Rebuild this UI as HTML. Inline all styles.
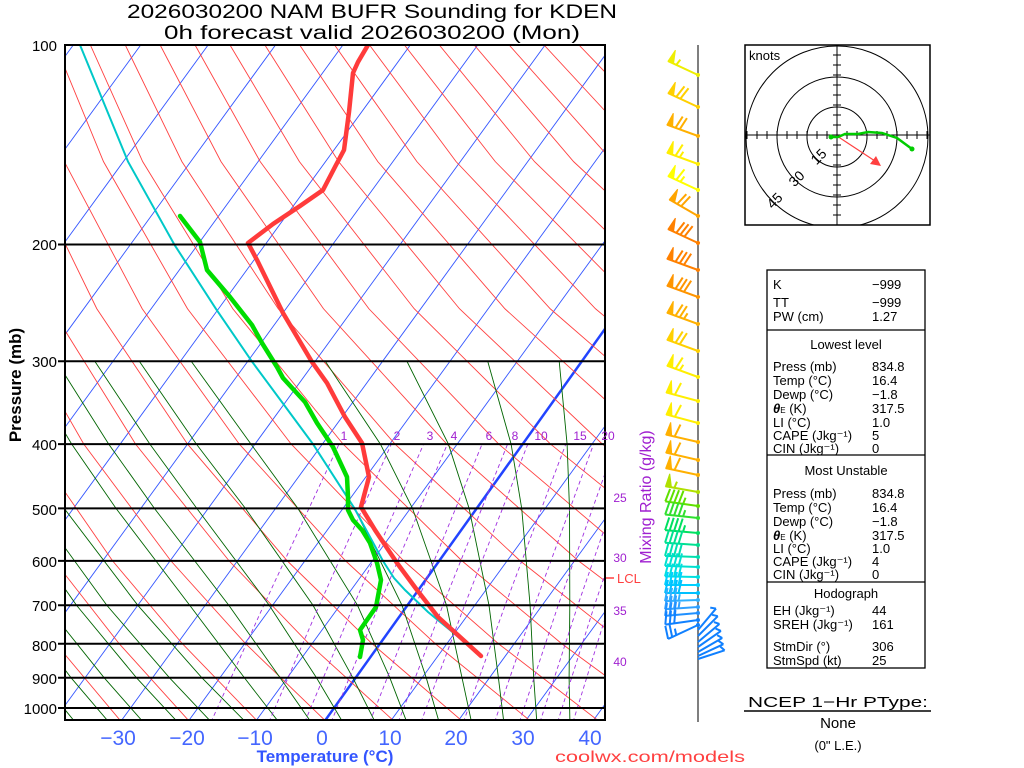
<!DOCTYPE html>
<html><head><meta charset="utf-8"><style>
html,body{margin:0;padding:0;background:#fff;}
svg{display:block;font-family:"Liberation Sans",sans-serif;}
</style></head><body>
<svg width="1024" height="768" viewBox="0 0 1024 768" xmlns="http://www.w3.org/2000/svg">
<defs>
<clipPath id="cp"><rect x="65" y="45" width="540" height="675"/></clipPath>
<clipPath id="hc"><rect x="745" y="45" width="185" height="180"/></clipPath>
<g id="b10"><line x1="0" y1="0" x2="-33" y2="0"/><line x1="-33" y1="0" x2="-30" y2="-13"/><circle r="2" stroke="none"/></g>
<g id="b15"><line x1="0" y1="0" x2="-33" y2="0"/><line x1="-33" y1="0" x2="-30" y2="-13"/><line x1="-28.5" y1="0" x2="-27" y2="-6.5"/><circle r="2" stroke="none"/></g>
<g id="b25"><line x1="0" y1="0" x2="-33" y2="0"/><line x1="-33" y1="0" x2="-30" y2="-13"/><line x1="-28.5" y1="0" x2="-25.5" y2="-13"/><line x1="-24" y1="0" x2="-22.5" y2="-6.5"/><circle r="2" stroke="none"/></g>
<g id="b30"><line x1="0" y1="0" x2="-33" y2="0"/><line x1="-33" y1="0" x2="-30" y2="-13"/><line x1="-28.5" y1="0" x2="-25.5" y2="-13"/><line x1="-24" y1="0" x2="-21" y2="-13"/><circle r="2" stroke="none"/></g>
<g id="b35"><use href="#b30"/><line x1="-19.5" y1="0" x2="-18" y2="-6.5"/></g>
<g id="b40"><use href="#b30"/><line x1="-19.5" y1="0" x2="-16.5" y2="-13"/></g>
<g id="b45"><use href="#b40"/><line x1="-15" y1="0" x2="-13.5" y2="-6.5"/></g>
<g id="b50"><line x1="0" y1="0" x2="-33" y2="0"/><polygon points="-33,0 -31,-13 -27,0" stroke-width="1"/><circle r="2" stroke="none"/></g>
<g id="b55"><use href="#b50"/><line x1="-24" y1="0" x2="-22.5" y2="-6.5"/></g>
<g id="b60"><use href="#b50"/><line x1="-24" y1="0" x2="-21" y2="-13"/></g>
<g id="b65"><use href="#b60"/><line x1="-19.5" y1="0" x2="-18" y2="-6.5"/></g>
<g id="b70"><use href="#b60"/><line x1="-19.5" y1="0" x2="-16.5" y2="-13"/></g>
<g id="b75"><use href="#b70"/><line x1="-15" y1="0" x2="-13.5" y2="-6.5"/></g>
<g id="b80"><use href="#b70"/><line x1="-15" y1="0" x2="-12" y2="-13"/></g>
<g id="f1"><line x1="0" y1="0" x2="-28" y2="0"/><line x1="-28" y1="0" x2="-25" y2="5"/></g>
</defs>
<rect width="1024" height="768" fill="#fff"/>
<g clip-path="url(#cp)" fill="none">
<g stroke="#3355ff" stroke-width="0.9">
<line x1="-418.9" y1="722.05" x2="73.4" y2="44.86"/><line x1="-351.5" y1="722.05" x2="140.8" y2="44.86"/>
<line x1="-284.1" y1="722.05" x2="208.2" y2="44.86"/><line x1="-216.7" y1="722.05" x2="275.6" y2="44.86"/>
<line x1="-149.3" y1="722.05" x2="343.0" y2="44.86"/><line x1="-81.9" y1="722.05" x2="410.4" y2="44.86"/>
<line x1="-14.5" y1="722.05" x2="477.8" y2="44.86"/><line x1="52.9" y1="722.05" x2="545.2" y2="44.86"/>
<line x1="120.3" y1="722.05" x2="612.6" y2="44.86"/><line x1="187.7" y1="722.05" x2="680.0" y2="44.86"/>
<line x1="255.1" y1="722.05" x2="747.4" y2="44.86"/>
<line x1="389.9" y1="722.05" x2="882.2" y2="44.86"/><line x1="457.3" y1="722.05" x2="949.6" y2="44.86"/>
<line x1="524.7" y1="722.05" x2="1017.0" y2="44.86"/><line x1="592.1" y1="722.05" x2="1084.4" y2="44.86"/>
</g>
<line x1="324" y1="722.05" x2="808" y2="44.86" stroke="#2244ff" stroke-width="2.5"/>
<g stroke="#ff4040" stroke-width="0.9">
<polyline points="53.3,722.05 -7.3,643.73 -62.1,560.88 -123.7,444.1 -175.2,308.75 -210,161.63 -223.7,44.86"/>
<polyline points="121.6,722.05 55.9,643.73 -3.8,560.88 -71.8,444.1 -129.9,308.75 -170.8,161.63 -188.8,44.86"/>
<polyline points="190,722.05 119.2,643.73 54.4,560.88 -20,444.1 -84.5,308.75 -131.6,161.63 -153.9,44.86"/>
<polyline points="258.3,722.05 182.4,643.73 112.6,560.88 31.9,444.1 -39.2,308.75 -92.4,161.63 -119.1,44.86"/>
<polyline points="326.7,722.05 245.6,643.73 170.9,560.88 83.8,444.1 6.1,308.75 -53.2,161.63 -84.2,44.86"/>
<polyline points="395,722.05 308.9,643.73 229.1,560.88 135.6,444.1 51.5,308.75 -14,161.63 -49.3,44.86"/>
<polyline points="463.3,722.05 372.1,643.73 287.3,560.88 187.5,444.1 96.8,308.75 25.1,161.63 -14.4,44.86"/>
<polyline points="531.7,722.05 435.3,643.73 345.6,560.88 239.3,444.1 142.2,308.75 64.3,161.63 20.5,44.86"/>
<polyline points="600,722.05 498.5,643.73 403.8,560.88 291.2,444.1 187.5,308.75 103.5,161.63 55.4,44.86"/>
<polyline points="668.4,722.05 561.8,643.73 462,560.88 343.1,444.1 232.8,308.75 142.7,161.63 90.3,44.86"/>
<polyline points="736.7,722.05 625,643.73 520.2,560.88 395,444.1 278.2,308.75 181.9,161.63 125.2,44.86"/>
<polyline points="805,722.05 688.2,643.73 578.5,560.88 446.8,444.1 323.5,308.75 221,161.63 160.1,44.86"/>
<polyline points="873.4,722.05 751.5,643.73 636.7,560.88 498.7,444.1 368.9,308.75 260.2,161.63 195,44.86"/>
<polyline points="941.7,722.05 814.7,643.73 694.9,560.88 550.5,444.1 414.2,308.75 299.4,161.63 229.9,44.86"/>
<polyline points="1010.1,722.05 877.9,643.73 753.2,560.88 602.4,444.1 459.5,308.75 338.6,161.63 264.8,44.86"/>
<polyline points="1078.4,722.05 941.2,643.73 811.4,560.88 654.2,444.1 504.9,308.75 377.8,161.63 299.6,44.86"/>
<polyline points="1146.7,722.05 1004.4,643.73 869.6,560.88 706.1,444.1 550.2,308.75 416.9,161.63 334.5,44.86"/>
<polyline points="1215.1,722.05 1067.6,643.73 927.8,560.88 758,444.1 595.5,308.75 456.1,161.63 369.4,44.86"/>
<polyline points="1283.4,722.05 1130.8,643.73 986.1,560.88 809.8,444.1 640.9,308.75 495.3,161.63 404.3,44.86"/>
<polyline points="1351.8,722.05 1194.1,643.73 1044.3,560.88 861.7,444.1 686.2,308.75 534.5,161.63 439.2,44.86"/>
<polyline points="1420.1,722.05 1257.3,643.73 1102.5,560.88 913.5,444.1 731.6,308.75 573.6,161.63 474.1,44.86"/>
<polyline points="1488.4,722.05 1320.5,643.73 1160.8,560.88 965.4,444.1 776.9,308.75 612.8,161.63 509,44.86"/>
<polyline points="1556.8,722.05 1383.8,643.73 1219,560.88 1017.3,444.1 822.2,308.75 652,161.63 543.9,44.86"/>
<polyline points="1625.1,722.05 1447,643.73 1277.2,560.88 1069.1,444.1 867.6,308.75 691.2,161.63 578.8,44.86"/>
<polyline points="1693.5,722.05 1510.2,643.73 1335.5,560.88 1121,444.1 912.9,308.75 730.4,161.63 613.7,44.86"/>
</g>
<g stroke="#006400" stroke-width="0.9">
<polyline points="569.9,722.05 569.1,677.66 569.8,605.28 569.5,508.37 567.1,444.1 559.2,361.26"/>
<polyline points="536.8,722.05 533.7,677.66 530.1,605.28 521.7,508.37 511.1,444.1 487.7,361.26"/>
<polyline points="503.8,722.05 498.4,677.66 489,605.28 469.1,508.37 448.4,444.1 406.9,361.26"/>
<polyline points="471.5,722.05 462,677.66 446.5,605.28 412.5,508.37 380.4,444.1 325.3,361.26"/>
<polyline points="439.1,722.05 426.2,677.66 402,605.28 354.5,508.37 313,444.1 251.8,361.26"/>
<polyline points="406.8,722.05 389.8,677.66 357.5,605.28 297.9,508.37 251,444.1 191.2,361.26"/>
<polyline points="375.1,722.05 352.8,677.66 313,605.28 245.4,508.37 196.4,444.1 139.3,361.26"/>
<polyline points="342.7,722.05 316.4,677.66 269.2,605.28 196.8,508.37 149.9,444.1 94.8,361.26"/>
<polyline points="311,722.05 280,677.66 228.8,605.28 154.4,508.37 108.7,444.1 56.4,361.26"/>
<polyline points="278.7,722.05 244.3,677.66 189.7,605.28 116,508.37 71.7,444.1 22,361.26"/>
<polyline points="245.7,722.05 201.8,677.66 137.8,605.28 64.1,508.37 22.5,444.1 -23.1,361.26"/>
<polyline points="211.3,722.05 169.4,677.66 106.8,605.28 36.4,508.37 -3.8,444.1"/>
<polyline points="177.6,722.05 136.4,677.66 76.5,605.28 8.8,508.37"/>
<polyline points="143.2,722.05 104.1,677.66 46.1,605.28 -18.8,508.37"/>
<polyline points="108.8,722.05 71,677.66 15.8,605.28 -46.5,508.37"/>
<polyline points="75.1,722.05 38.7,677.66 -14.5,605.28"/>
</g>
<g stroke="#a030e0" stroke-width="0.9" stroke-dasharray="4,3">
<polyline points="211,722.05 263.8,605.28 339,444.1"/>
<polyline points="268.9,722.05 319.3,605.28 391.3,444.1"/>
<polyline points="304.8,722.05 353.7,605.28 423.6,444.1"/>
<polyline points="331.2,722.05 378.9,605.28 447.4,444.1"/>
<polyline points="369.8,722.05 415.8,605.28 482.1,444.1"/>
<polyline points="398.3,722.05 442.9,605.28 507.6,444.1"/>
<polyline points="421,722.05 464.6,605.28 527.8,444.1"/>
<polyline points="463.4,722.05 505.1,605.28 565.8,444.1"/>
<polyline points="494.6,722.05 534.7,605.28 593.6,444.1"/>
<polyline points="519.4,722.05 558.2,605.28 615.5,444.1"/>
<polyline points="540,722.05 577.8,605.28 633.8,444.1"/>
<polyline points="557.6,722.05 594.5,605.28 649.4,444.1"/>
<polyline points="573,722.05 609.1,605.28 663.1,444.1"/>
</g>
<polyline points="481,656 450,630 428,612 405,590 394,578 383,561 354.5,508.4 313,444.1 251.8,361.3 215.9,308.8 174.3,244.5 128,161.6 80,45" stroke="#00c8c8" stroke-width="2"/>
<polyline points="368,45 358,62 353,73 349,112 344,150 336,165 323,190 300,206 273,224 248,243 257,260 283,313 312,362 327,383 345,417 362,443 369,477 361,507 375,530 397,563 417,590 438,617 481,656" stroke="#ff3b3b" stroke-width="4.5" stroke-linejoin="round" stroke-linecap="round"/>
<polyline points="180,216 200,242 207,270 230,297 252,325 262,343 277,367 283,378 305,402 317,423 333,447 347,477 348,497 348,510 353,520 362,530 370,543 377,563 381,580 376,607 360,630 363,640 360,657" stroke="#00dd00" stroke-width="4.5" stroke-linejoin="round" stroke-linecap="round"/>
</g>
<g stroke="#000" stroke-width="2">
<line x1="58" x2="605" y1="244.5" y2="244.5"/><line x1="58" x2="605" y1="361.3" y2="361.3"/>
<line x1="58" x2="605" y1="444.1" y2="444.1"/><line x1="58" x2="605" y1="508.4" y2="508.4"/>
<line x1="58" x2="605" y1="560.9" y2="560.9"/><line x1="58" x2="605" y1="605.3" y2="605.3"/>
<line x1="58" x2="605" y1="643.7" y2="643.7"/><line x1="58" x2="605" y1="677.7" y2="677.7"/>
<line x1="58" x2="605" y1="708" y2="708"/>
</g>
<rect x="65" y="45" width="540" height="675" fill="none" stroke="#000" stroke-width="2"/>
<text x="372" y="18" font-size="19" text-anchor="middle" textLength="490" lengthAdjust="spacingAndGlyphs">2026030200 NAM BUFR Sounding for KDEN</text>
<text x="372" y="39" font-size="19" text-anchor="middle" textLength="416" lengthAdjust="spacingAndGlyphs">0h forecast valid 2026030200 (Mon)</text>
<g font-size="15" text-anchor="end">
<text x="57" y="51">100</text><text x="57" y="250">200</text><text x="57" y="367">300</text>
<text x="57" y="450">400</text><text x="57" y="515">500</text><text x="57" y="567">600</text>
<text x="57" y="611">700</text><text x="57" y="651">800</text><text x="57" y="684">900</text>
<text x="57" y="714">1000</text></g>
<text transform="translate(21,385) rotate(-90)" font-size="17" font-weight="bold" text-anchor="middle">Pressure (mb)</text>
<g font-size="21" fill="#4466ff" text-anchor="middle">
<text x="118" y="745">−30</text><text x="187" y="745">−20</text><text x="255" y="745">−10</text>
<text x="322" y="745">0</text><text x="390" y="745">10</text><text x="456" y="745">20</text>
<text x="523" y="745">30</text><text x="590" y="745">40</text></g>
<text x="325" y="762" font-size="17" font-weight="bold" fill="#3355ff" text-anchor="middle">Temperature (°C)</text>
<text x="650" y="762" font-size="16" fill="#ff4040" text-anchor="middle" textLength="190" lengthAdjust="spacingAndGlyphs">coolwx.com/models</text>
<g font-size="12" fill="#a020d0" text-anchor="middle">
<text x="344" y="440">1</text><text x="397" y="440">2</text><text x="430" y="440">3</text>
<text x="454" y="440">4</text><text x="489" y="440">6</text><text x="515" y="440">8</text>
<text x="541" y="440">10</text><text x="580" y="440">15</text><text x="608" y="440">20</text>
<text x="620" y="502">25</text><text x="620" y="562">30</text><text x="620" y="615">35</text><text x="620" y="666">40</text></g>
<text transform="translate(651,497) rotate(-90)" font-size="16" fill="#a020d0" text-anchor="middle">Mixing Ratio (g/kg)</text>
<line x1="606" y1="578" x2="614" y2="578" stroke="#ff4040" stroke-width="1.5"/>
<text x="617" y="583" font-size="13" fill="#ff4040">LCL</text>
<line x1="698" y1="45" x2="698" y2="722" stroke="#555" stroke-width="1.5"/>
<g stroke-width="2">
<use href="#b55" transform="translate(698,75) rotate(25)" stroke="#eeee00" fill="#eeee00"/>
<use href="#b70" transform="translate(698,107) rotate(25)" stroke="#ffd000" fill="#ffd000"/>
<use href="#b70" transform="translate(698,136) rotate(20)" stroke="#ffb000" fill="#ffb000"/>
<use href="#b65" transform="translate(698,164) rotate(20)" stroke="#ffee00" fill="#ffee00"/>
<use href="#b65" transform="translate(698,190) rotate(25)" stroke="#ffff00" fill="#ffff00"/>
<use href="#b70" transform="translate(698,216) rotate(30)" stroke="#ffa500" fill="#ffa500"/>
<use href="#b80" transform="translate(698,243) rotate(25)" stroke="#ff8000" fill="#ff8000"/>
<use href="#b80" transform="translate(698,270) rotate(20)" stroke="#ff8000" fill="#ff8000"/>
<use href="#b80" transform="translate(698,297) rotate(20)" stroke="#ff9500" fill="#ff9500"/>
<use href="#b75" transform="translate(698,324) rotate(20)" stroke="#ffb000" fill="#ffb000"/>
<use href="#b70" transform="translate(698,351) rotate(20)" stroke="#ffd000" fill="#ffd000"/>
<use href="#b65" transform="translate(698,377) rotate(20)" stroke="#ffee00" fill="#ffee00"/>
<use href="#b60" transform="translate(698,401) rotate(15)" stroke="#ffee00" fill="#ffee00"/>
<use href="#b60" transform="translate(698,423) rotate(15)" stroke="#ffee00" fill="#ffee00"/>
<use href="#b60" transform="translate(698,442) rotate(13)" stroke="#ffb000" fill="#ffb000"/>
<use href="#b60" transform="translate(698,460) rotate(13)" stroke="#ffb000" fill="#ffb000"/>
<use href="#b60" transform="translate(698,475) rotate(12)" stroke="#ffb000" fill="#ffb000"/>
<use href="#b55" transform="translate(698,492) rotate(10)" stroke="#b0e000" fill="#b0e000"/>
<use href="#b45" transform="translate(698,506) rotate(8)" stroke="#60e000" fill="#60e000"/>
<use href="#b45" transform="translate(698,518) rotate(6)" stroke="#30e030" fill="#30e030"/>
<use href="#b45" transform="translate(698,533) rotate(5)" stroke="#00e060" fill="#00e060"/>
<use href="#b40" transform="translate(698,545) rotate(4)" stroke="#00e090" fill="#00e090"/>
<use href="#b40" transform="translate(698,557) rotate(2)" stroke="#00e0b0" fill="#00e0b0"/>
<use href="#b40" transform="translate(698,567) rotate(2)" stroke="#00e0d0" fill="#00e0d0"/>
<use href="#b40" transform="translate(698,577) rotate(1)" stroke="#00e0e0" fill="#00e0e0"/>
<use href="#b40" transform="translate(698,585) rotate(0)" stroke="#00d0ff" fill="#00d0ff"/>
<use href="#b40" transform="translate(698,593) rotate(0)" stroke="#00c0ff" fill="#00c0ff"/>
<use href="#b35" transform="translate(698,600) rotate(-2)" stroke="#30b0ff" fill="#30b0ff"/>
<use href="#b35" transform="translate(698,607) rotate(-4)" stroke="#30a0ff" fill="#30a0ff"/>
<use href="#b30" transform="translate(698,613) rotate(-5)" stroke="#2090ff" fill="#2090ff"/>
<use href="#b30" transform="translate(698,620) rotate(-8)" stroke="#1080ff" fill="#1080ff"/>
<use href="#b25" transform="translate(698,625) rotate(-25)" stroke="#1080ff" fill="#1080ff"/>
<use href="#f1" transform="translate(698,630) rotate(130)" stroke="#1080ff"/>
<use href="#f1" transform="translate(698,636) rotate(135)" stroke="#1080ff"/>
<use href="#f1" transform="translate(698,642) rotate(140)" stroke="#1080ff"/>
<use href="#f1" transform="translate(698,647) rotate(145)" stroke="#1080ff"/>
<use href="#f1" transform="translate(698,652) rotate(150)" stroke="#1080ff"/>
<use href="#f1" transform="translate(698,656) rotate(155)" stroke="#1080ff"/>
<use href="#f1" transform="translate(698,659) rotate(162)" stroke="#1080ff"/>
</g>
<rect x="745" y="45" width="185" height="180" fill="#fff" stroke="#000" stroke-width="1.5"/>
<g clip-path="url(#hc)">
<circle cx="837" cy="137" r="30" fill="none" stroke="#000"/>
<circle cx="837" cy="137" r="60" fill="none" stroke="#000"/>
<circle cx="837" cy="137" r="91" fill="none" stroke="#000"/>
<line x1="745" y1="135" x2="930" y2="135" stroke="#000"/>
<line x1="837" y1="45" x2="837" y2="225" stroke="#000"/>
<path stroke="#000" d="M747 131v8M757 131v8M767 131v8M777 131v8M787 131v8M797 131v8M807 131v8M817 131v8M827 131v8M847 131v8M857 131v8M867 131v8M877 131v8M887 131v8M897 131v8M907 131v8M917 131v8M927 131v8M833 45h8M833 55h8M833 65h8M833 75h8M833 85h8M833 95h8M833 105h8M833 115h8M833 125h8M833 145h8M833 155h8M833 165h8M833 175h8M833 185h8M833 195h8M833 205h8M833 215h8M833 225h8"/>
<text x="749" y="60" font-size="13">knots</text>
<text transform="translate(822,160) rotate(-45)" font-size="14" text-anchor="middle">15</text>
<text transform="translate(800,182) rotate(-45)" font-size="14" text-anchor="middle">30</text>
<text transform="translate(778,204) rotate(-45)" font-size="14" text-anchor="middle">45</text>
<line x1="837" y1="136" x2="878" y2="163" stroke="#ff4040" stroke-width="1.2"/>
<polygon points="881,166 870,164 876,156" fill="#ff4040"/>
<polyline points="831,137 838,137 845,134 858,134 868,132 882,133 897,138 912,149" fill="none" stroke="#00cc00" stroke-width="2.5"/>
<circle cx="831" cy="137" r="2.5" fill="#00cc00"/><circle cx="912" cy="149" r="2.5" fill="#00cc00"/>
</g>
<g font-size="13">
<rect x="767" y="270" width="158" height="398" fill="none" stroke="#000" stroke-width="1.3"/>
<line x1="767" y1="330" x2="925" y2="330" stroke="#000" stroke-width="1.3"/>
<line x1="767" y1="455" x2="925" y2="455" stroke="#000" stroke-width="1.3"/>
<line x1="767" y1="582" x2="925" y2="582" stroke="#000" stroke-width="1.3"/>
<text x="773" y="289">K</text><text x="872" y="289">−999</text>
<text x="773" y="307">TT</text><text x="872" y="307">−999</text>
<text x="773" y="321">PW (cm)</text><text x="872" y="321">1.27</text>
<text x="846" y="349" text-anchor="middle">Lowest level</text>
<text x="773" y="371">Press (mb)</text><text x="872" y="371">834.8</text>
<text x="773" y="385">Temp (°C)</text><text x="872" y="385">16.4</text>
<text x="773" y="399">Dewp (°C)</text><text x="872" y="399">−1.8</text>
<text x="773" y="413"><tspan font-weight="bold" font-style="italic">θ</tspan><tspan font-size="8">E</tspan> (K)</text><text x="872" y="413">317.5</text>
<text x="773" y="427">LI (°C)</text><text x="872" y="427">1.0</text>
<text x="773" y="440">CAPE (Jkg⁻¹)</text><text x="872" y="440">5</text>
<text x="773" y="453">CIN (Jkg⁻¹)</text><text x="872" y="453">0</text>
<text x="846" y="475" text-anchor="middle">Most Unstable</text>
<text x="773" y="498">Press (mb)</text><text x="872" y="498">834.8</text>
<text x="773" y="512">Temp (°C)</text><text x="872" y="512">16.4</text>
<text x="773" y="526">Dewp (°C)</text><text x="872" y="526">−1.8</text>
<text x="773" y="540"><tspan font-weight="bold" font-style="italic">θ</tspan><tspan font-size="8">E</tspan> (K)</text><text x="872" y="540">317.5</text>
<text x="773" y="553">LI (°C)</text><text x="872" y="553">1.0</text>
<text x="773" y="566">CAPE (Jkg⁻¹)</text><text x="872" y="566">4</text>
<text x="773" y="579">CIN (Jkg⁻¹)</text><text x="872" y="579">0</text>
<text x="846" y="598" text-anchor="middle">Hodograph</text>
<text x="773" y="615">EH (Jkg⁻¹)</text><text x="872" y="615">44</text>
<text x="773" y="629">SREH (Jkg⁻¹)</text><text x="872" y="629">161</text>
<text x="773" y="651">StmDir (°)</text><text x="872" y="651">306</text>
<text x="773" y="665">StmSpd (kt)</text><text x="872" y="665">25</text>
<text x="838" y="707" font-size="15" text-anchor="middle" textLength="180" lengthAdjust="spacingAndGlyphs">NCEP 1−Hr PType:</text>
<line x1="744" y1="711" x2="931" y2="711" stroke="#000" stroke-width="1.5"/>
<text x="838" y="728" font-size="15" text-anchor="middle">None</text>
<text x="838" y="750" font-size="13" text-anchor="middle">(0" L.E.)</text>
</g>
</svg>
</body></html>
